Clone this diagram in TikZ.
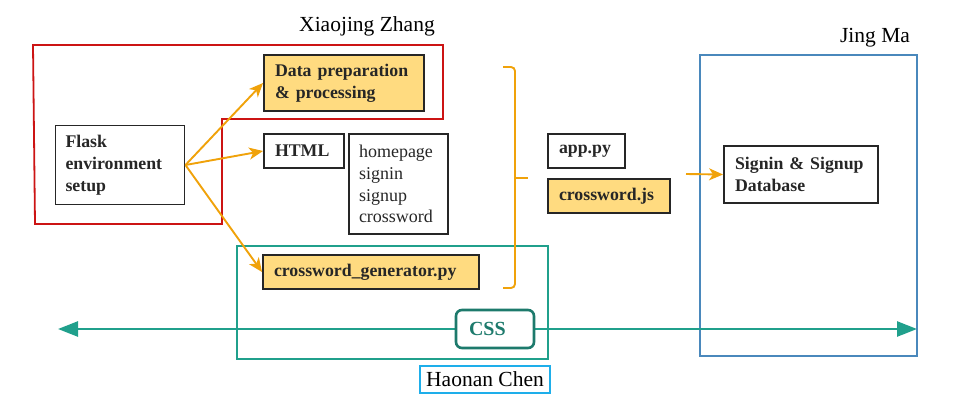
\documentclass[tikz,border=0pt]{standalone}
\usepackage{fontspec}
\setmainfont{Liberation Serif}
\usetikzlibrary{arrows.meta}
\definecolor{orng}{HTML}{F0A20A}
\definecolor{yfill}{HTML}{FFDB80}
\definecolor{redg}{HTML}{CC1414}
\definecolor{tealg}{HTML}{20A08C}
\definecolor{tealdk}{HTML}{1D7A6C}
\definecolor{blueg}{HTML}{4A88BC}
\definecolor{cyang}{HTML}{1EAEEA}
\definecolor{boxln}{HTML}{262626}
\tikzset{
  box/.style={draw=boxln, line width=1.9pt, inner sep=0pt, align=left, font=\fontsize{17.8}{22}\selectfont\bfseries, text=boxln},
  ybox/.style={box, fill=yfill},
  plainbox/.style={draw=boxln, line width=1.9pt, inner sep=0pt, align=left, font=\fontsize{18}{21.7}\selectfont, text=boxln},
  oarrow/.style={draw=orng, line width=1.9pt, -{Stealth[length=14pt,width=12pt,inset=4pt]}},
  lbl/.style={font=\fontsize{21.5}{25}\selectfont, text=black, inner sep=0pt},
}
\begin{document}
\begin{tikzpicture}[x=1pt,y=-1pt]
\useasboundingbox (0,0) rectangle (977,410);
% group outlines
\draw[redg, line width=1.8pt] (33,45) -- (443,45) -- (443,119) -- (222,119) -- (222,224) -- (35,224) -- cycle;
\draw[tealg, line width=1.9pt] (237,246) rectangle (548,359);
\draw[blueg, line width=2.1pt] (700,55) rectangle (917,356);
% labels
\node[lbl] (lx) at (367,26) {Xiaojing Zhang};
\node[lbl] (lj) at (875,38) {Jing Ma};
\node[lbl, draw=cyang, line width=1.6pt, minimum width=130pt, minimum height=27pt] (lh) at (485,379.5) {Haonan Chen};
% nodes
\node[box, minimum width=129pt, minimum height=79pt, text width=109pt] (flask) at (120,165) {Flask\\environment\\setup};
\node[ybox, minimum width=160pt, minimum height=56pt, text width=138pt] (dp) at (344,83) {Data preparation\\\& processing};
\node[box, minimum width=80pt, minimum height=34pt, text width=58pt] (html) at (304,151) {HTML};
\node[plainbox, minimum width=99pt, minimum height=100pt, text width=79pt] (pages) at (398.5,184) {homepage\\signin\\signup\\crossword};
\node[ybox, minimum width=216pt, minimum height=34pt, text width=194pt] (cg) at (371,272) {crossword\_generator.py};
\node[box, minimum width=77pt, minimum height=34pt, text width=55pt] (app) at (586.5,151) {app.py};
\node[ybox, minimum width=122pt, minimum height=34pt, text width=100pt] (cjs) at (609,196) {crossword.js};
\node[box, minimum width=154pt, minimum height=57pt, text width=132pt] (db) at (801,174.5) {Signin \& Signup\\Database};
% brace
\draw[orng, line width=1.9pt, rounded corners=4pt] (503,67) -| (515,178) |- (503,288);
\draw[orng, line width=1.9pt] (515,178) -- (528,178);
% orange arrows
\draw[oarrow] (flask.east) -- (dp.west);
\draw[oarrow] (flask.east) -- (html.west);
\draw[oarrow] (flask.east) -- (cg.west);
\coordinate (js) at (686,174);
\draw[oarrow] (js) -- (db.west);
% CSS line
\coordinate (cl) at (58,329);
\coordinate (cr) at (917,329);
\draw[tealg, line width=2.6pt, {Triangle[length=20pt,width=15pt]}-{Triangle[length=20pt,width=15pt]}] (cl) -- (cr);
\node[draw=tealdk, fill=white, line width=2.6pt, rounded corners=6pt, minimum width=78pt, minimum height=38pt, text width=60pt, inner sep=0pt, align=left, text=tealdk, font=\fontsize{20}{24}\selectfont\bfseries] (css) at (495,329) {\hspace*{4pt}CSS};
\end{tikzpicture}
\end{document}
